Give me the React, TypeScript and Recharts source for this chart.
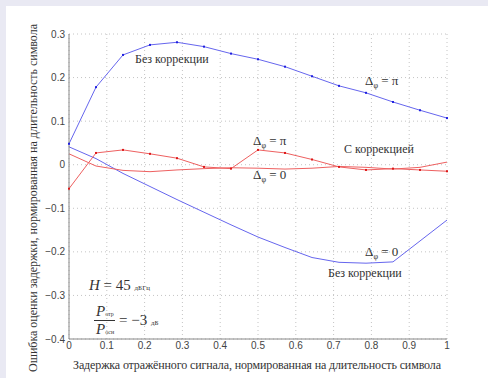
import React from 'react';
import { LineChart, Line, XAxis, YAxis, CartesianGrid } from 'recharts';

// задержка отражённого сигнала (шаг 1/14)
const delays = [0, 0.0714, 0.1429, 0.2143, 0.2857, 0.3571, 0.4286, 0.5, 0.5714, 0.6429, 0.7143, 0.7857, 0.8571, 0.9286, 1];

// без коррекции
const noCorrPi = [0.048, 0.178, 0.252, 0.275, 0.281, 0.271, 0.255, 0.242, 0.225, 0.203, 0.181, 0.165, 0.144, 0.125, 0.107];
const noCorrZero = [0.041, 0.014, -0.02, -0.05, -0.08, -0.109, -0.138, -0.166, -0.19, -0.213, -0.224, -0.226, -0.223, -0.175, -0.127];

// с коррекцией
const corrPi = [-0.055, 0.027, 0.034, 0.025, 0.015, -0.005, -0.009, 0.034, 0.027, 0.012, -0.005, -0.012, -0.009, -0.012, -0.015];
const corrZero = [0.025, -0.003, -0.013, -0.016, -0.012, -0.009, -0.007, -0.008, -0.01, -0.008, -0.004, -0.006, -0.01, -0.006, 0.006];

const xTicks = [0, 0.1, 0.2, 0.3, 0.4, 0.5, 0.6, 0.7, 0.8, 0.9, 1];
const yTicks = [-0.4, -0.3, -0.2, -0.1, 0, 0.1, 0.2, 0.3];

const data = delays.map((x, i) => ({
  x,
  noCorrPi: noCorrPi[i],
  noCorrZero: noCorrZero[i],
  corrPi: corrPi[i],
  corrZero: corrZero[i],
}));

const BLUE = '#6666ee';
const RED = '#ee6060';
const serif = "'Liberation Serif', 'Times New Roman', 'DejaVu Serif', serif";
const sans = "'Liberation Sans', Arial, sans-serif";
const serifStyle = { fontFamily: serif };
const INK = '#333';

const fmt = (v: number) => {
  if (v === 0) return '0';
  const s = String(Math.round(Math.abs(v) * 10) / 10);
  return v < 0 ? '\u2212' + s : s;
};

const square = (color: string) => (props: any) => {
  const { cx, cy, index } = props;
  if (cx == null || cy == null) return <g key={index} />;
  return <rect key={index} x={cx - 1} y={cy - 1} width={2} height={2} fill={color} stroke="none" />;
};

const Delta = ({ x, y, value }: { x: number; y: number; value: string }) => (
  <text x={x} y={y} style={serifStyle} fontSize={13} fill={INK}>
    <tspan>Δ</tspan>
    <tspan fontSize={8} dy={3}>φ</tspan>
    <tspan dy={-3}> = {value}</tspan>
  </text>
);

export default function App() {
  return (
    <div style={{ position: 'fixed', left: 0, top: 0, width: 488, height: 378, background: '#e9e9f3' }}>
      <div style={{ position: 'absolute', left: 6, top: 6, width: 482, height: 372, background: '#fff' }}>
        <LineChart width={482} height={372} data={data} margin={{ top: 28, right: 41, bottom: 0, left: 0 }}>
          <CartesianGrid stroke="#c4c4c4" strokeDasharray="1 3" verticalValues={xTicks} horizontalValues={yTicks} />
          <XAxis
            dataKey="x"
            type="number"
            domain={[0, 1]}
            ticks={xTicks}
            tickFormatter={fmt}
            height={39}
            tickLine={false}
            tickSize={3}
            tickMargin={0}
            axisLine={{ stroke: '#888' }}
            tick={{ fontFamily: sans, fontSize: 10, fill: '#444' }}
          />
          <YAxis
            type="number"
            domain={[-0.4, 0.3]}
            ticks={yTicks}
            tickFormatter={fmt}
            width={63}
            tickLine={false}
            tickSize={4}
            tickMargin={0}
            axisLine={{ stroke: '#888' }}
            tick={{ fontFamily: sans, fontSize: 10, fill: '#444' }}
          />
          <Line dataKey="noCorrZero" stroke={BLUE} strokeWidth={1} dot={false} isAnimationActive={false} />
          <Line dataKey="noCorrPi" stroke={BLUE} strokeWidth={1} dot={square('#2020e0')} isAnimationActive={false} />
          <Line dataKey="corrZero" stroke={RED} strokeWidth={1} dot={false} isAnimationActive={false} />
          <Line dataKey="corrPi" stroke={RED} strokeWidth={1} dot={square('#dd1818')} isAnimationActive={false} />
        </LineChart>
      </div>
      <svg width={488} height={378} style={{ position: 'absolute', left: 0, top: 0, pointerEvents: 'none' }}>
        <text
          transform="translate(37,198) rotate(-90)"
          textAnchor="middle"
          style={serifStyle}
          fontSize={12}
          fill={INK}
          textLength={348}
        >
          Ошибка оценки задержки, нормированная на длительность символа
        </text>
        <text x={257} y={369} textAnchor="middle" style={serifStyle} fontSize={12} fill={INK} textLength={368}>
          Задержка отражённого сигнала, нормированная на длительность символа
        </text>

        <text x={135} y={63} style={serifStyle} fontSize={12} fill={INK}>Без коррекции</text>
        <Delta x={365} y={85} value="π" />
        <Delta x={253} y={145} value="π" />
        <text x={344} y={153} style={serifStyle} fontSize={12} fill={INK}>С коррекцией</text>
        <Delta x={253} y={179} value="0" />
        <Delta x={365} y={256} value="0" />
        <text x={328} y={277} style={serifStyle} fontSize={12} fill={INK}>Без коррекции</text>

        <text x={89} y={290} style={serifStyle} fontSize={15} fill={INK}>
          <tspan fontStyle="italic">H</tspan>
          <tspan> = 45 </tspan>
          <tspan fontSize={7}>дБГц</tspan>
        </text>
        <text x={96} y={316} style={serifStyle} fontSize={15} fill={INK}>
          <tspan fontStyle="italic">P</tspan>
          <tspan fontSize={6}>отр</tspan>
        </text>
        <line x1={94} y1={320.5} x2={115} y2={320.5} stroke={INK} strokeWidth={1} />
        <text x={96} y={334} style={serifStyle} fontSize={15} fill={INK}>
          <tspan fontStyle="italic">P</tspan>
          <tspan fontSize={6}>осн</tspan>
        </text>
        <text x={119} y={325} style={serifStyle} fontSize={15} fill={INK}>
          <tspan>= −3 </tspan>
          <tspan fontSize={7}>дБ</tspan>
        </text>
      </svg>
    </div>
  );
}
